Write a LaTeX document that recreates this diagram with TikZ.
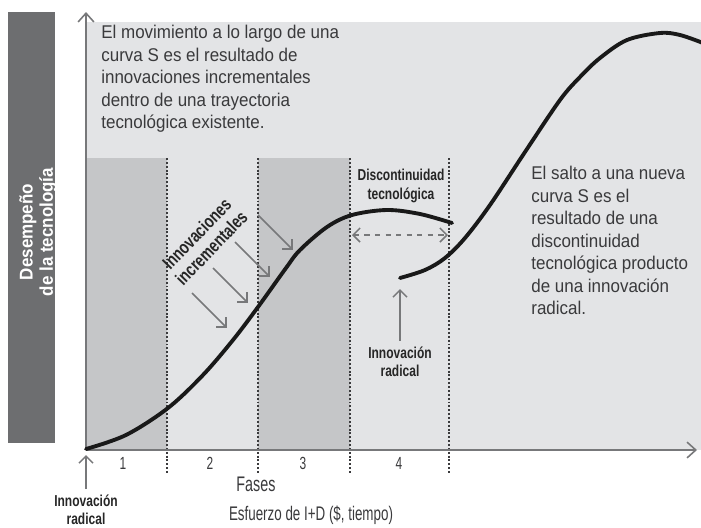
\documentclass[tikz,border=0pt]{standalone}
\usepackage{fontspec}
\setmainfont{Liberation Sans}[FakeStretch=0.92]
\newfontfamily\estrecha{Liberation Sans}[FakeStretch=0.76]
\newfontfamily\angosta{Liberation Sans}[FakeStretch=0.68]
\usetikzlibrary{positioning,arrows.meta}
\definecolor{fondo}{HTML}{E3E4E6}
\definecolor{fase}{HTML}{C5C6C8}
\definecolor{barra}{HTML}{6D6E70}
\definecolor{texto}{HTML}{3A3A3C}
\definecolor{gris}{HTML}{77787A}

\begin{document}
\begin{tikzpicture}[
	x=0.02cm, y=-0.02cm, % pixeles de la figura
	eje/.style={
		-{Straight Barb[length=5pt,width=9pt]}, gris, line width=0.9pt
	},
	limite/.style={
		draw=texto, line width=1.3pt, dash pattern=on 1.1pt off 1.1pt
	},
	curva/.style={
		line width=2.2pt, line cap=round, black!90
	},
	flechita/.style={
		-{Straight Barb[length=4pt,width=8pt]}, gris, line width=0.9pt
	},
	nota/.style={
		font=\fontsize{10.5}{12.8}\selectfont, text=texto,
		align=left, inner sep=0pt, anchor=north west
	},
	marca/.style={
		font=\estrecha\bfseries\fontsize{9}{10.5}\selectfont, text=black!85,
		align=center, inner sep=0pt
	},
	numero/.style={
		font=\angosta\fontsize{10}{11}\selectfont, text=texto
	}
	]
	\useasboundingbox (0,0) rectangle (701,528);
	
	% Fondo y fases sombreadas
	\fill[fondo] (86,22) rectangle (701,450);
	\fill[fase] (86,158) rectangle (167,450);
	\fill[fase] (258,158) rectangle (350,450);
	\fill[barra] (8,12) rectangle (55,443);
	\node[rotate=90, text=white, align=center, inner sep=0pt,
		font=\bfseries\fontsize{10.5}{11.5}\selectfont] (desempeno) at (38,232)
		{Desempeño\\de la tecnología};
	
	% Limites de las fases
	\foreach \xx in {167,258,350,449} {
		\draw[limite] (\xx,158) -- (\xx,474);
	}
	
	% Ejes
	\coordinate (origen) at (86,450);
	\coordinate (ytope) at (86,12);
	\coordinate (xfin) at (697,450);
	\draw[eje] (origen) -- (ytope);
	\draw[eje] (origen) -- (xfin);
	
	% Numeros de fase
	\node[numero] (f1) at (123,463) {1};
	\node[numero] (f2) at (210,463) {2};
	\node[numero] (f3) at (303,463) {3};
	\node[numero] (f4) at (399,463) {4};
	\node[font=\angosta\fontsize{12}{13}\selectfont, text=texto] (fases) at (256,484) {Fases};
	\node[font=\angosta\fontsize{11.2}{13}\selectfont, text=texto] (esfuerzo) at (311,515)
		{Esfuerzo de I+D (\$, tiempo)};
	
	% Curvas S
	\draw[curva] plot[smooth, tension=0.55] coordinates {
		(86,449) (126,435) (168,408) (203,375) (233,340) (258,307)
		(286,268) (300,250) (327,227) (352,215) (387,210) (420,214) (452,223)};
	\draw[curva] plot[smooth, tension=0.55] coordinates {
		(400,278) (425,270) (445,258) (465,238) (490,205) (525,152)
		(560,100) (580,77) (600,58) (627,40) (660,33) (680,35) (703,43)};
	
	% Textos explicativos
	\node[nota] (movimiento) at (101,25)
		{El movimiento a lo largo de una\\curva S es el resultado de\\innovaciones incrementales\\dentro de una trayectoria\\tecnológica existente.};
	\node[nota] (salto) at (531,166)
		{El salto a una nueva\\curva S es el\\resultado de una\\discontinuidad\\tecnológica producto\\de una innovación\\radical.};
	
	% Discontinuidad
	\node[marca] (discont) at (401,186) {Discontinuidad\\tecnológica};
	\coordinate (d1) at (352,235);
	\coordinate (d2) at (448,235);
	\draw[flechita, {Straight Barb[length=4pt,width=8pt]}-{Straight Barb[length=4pt,width=8pt]}, dashed] (d1) -- (d2);
	
	% Innovacion radical
	\node[marca] (radical2) at (400,362) {Innovación\\radical};
	\draw[flechita] (radical2.north) ++(0,-6) coordinate (r2) -- (400,289);
	\node[marca] (radical1) at (86,510) {Innovación\\radical};
	\coordinate (r1) at (86,489);
	\draw[flechita] (r1) -- (86,455);
	
	% Innovaciones incrementales
	\node[marca, rotate=46, font=\estrecha\bfseries\fontsize{10.5}{11.5}\selectfont]
		(increm) at (204,241) {Innovaciones\\incrementales};
	\foreach \ax/\ay in {192/293, 213/268, 235/242, 258/215} {
		\draw[flechita] (\ax,\ay) -- ++(35,35);
	}
\end{tikzpicture}
\end{document}
